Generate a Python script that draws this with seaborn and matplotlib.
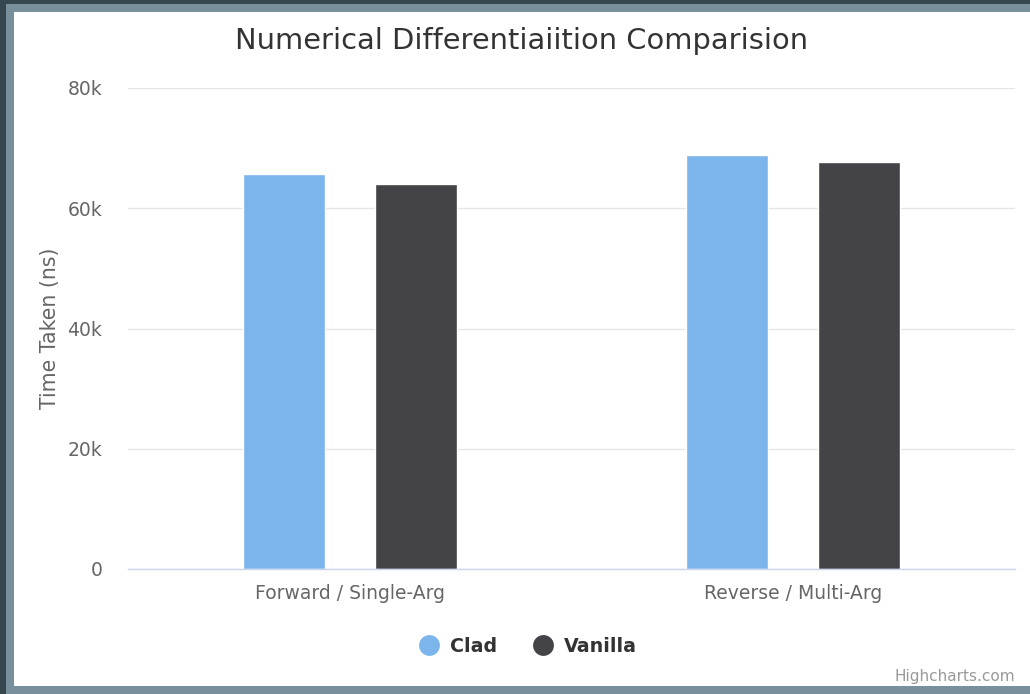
import matplotlib
matplotlib.use("Agg")
import matplotlib.pyplot as plt
from matplotlib.patches import Rectangle
from matplotlib.lines import Line2D
import seaborn as sns
import pandas as pd

categories = ["Forward / Single-Arg", "Reverse / Multi-Arg"]
series_names = ["Clad", "Vanilla"]
clad_values = [65700, 68800]
vanilla_values = [64000, 67700]
y_ticks = [0, 20000, 40000, 60000, 80000]
y_tick_labels = ["0", "20k", "40k", "60k", "80k"]
colors = ["#7cb5ec", "#434348"]

df = pd.DataFrame({
    "category": categories * 2,
    "series": [series_names[0]] * 2 + [series_names[1]] * 2,
    "value": clad_values + vanilla_values,
})

sns.set_style("white")
plt.rcParams["font.family"] = ["DejaVu Sans"]

W, H = 1030, 694
fig = plt.figure(figsize=(W / 100, H / 100), dpi=100)
fig.patch.set_facecolor("white")

# window frame
fig.patches.append(Rectangle((0, 0), 1, 1, transform=fig.transFigure,
                             facecolor="#37474f", edgecolor="none", zorder=-3))
fig.patches.append(Rectangle((6 / W, 0), 1, 1 - 4 / H, transform=fig.transFigure,
                             facecolor="#78909c", edgecolor="none", zorder=-2))
fig.patches.append(Rectangle((14 / W, 8 / H), 1, 1 - 20 / H, transform=fig.transFigure,
                             facecolor="white", edgecolor="none", zorder=-1))

ax = fig.add_axes([128 / W, 1 - 569 / H, (1014.5 - 128) / W, (569 - 88) / H])
ax.set_facecolor("none")
sns.barplot(data=df, x="category", y="value", hue="series", palette=colors,
            width=0.596, gap=0.379, ax=ax, legend=False, saturation=1,
            errorbar=None)

ax.set_xlim(-0.5, 1.5)
ax.set_ylim(0, 80000)
ax.set_yticks(y_ticks)
ax.set_yticklabels(y_tick_labels)
ax.grid(axis="y", color="#e6e6e6", linewidth=1)
ax.set_axisbelow(True)
for s in ["top", "right", "left"]:
    ax.spines[s].set_visible(False)
ax.spines["bottom"].set_color("#ccd6eb")
ax.spines["bottom"].set_linewidth(1)
ax.tick_params(axis="y", length=0, pad=18.5, labelsize=13.5, labelcolor="#666666")
ax.tick_params(axis="x", length=0, pad=11, labelsize=13.5, labelcolor="#666666")
ax.set_xlabel("")
ax.set_ylabel("Time Taken (ns)", fontsize=14.8, color="#666666")
ax.yaxis.set_label_coords((60 - 128) / 886.5, 0.5)
for lab in ax.get_yticklabels():
    lab.set_horizontalalignment("right")

fig.text(522 / W, 1 - 41 / H, "Numerical Differentiaiition Comparision",
         ha="center", va="center", fontsize=20.8, color="#333333")

handles = [Line2D([0], [0], marker="o", linestyle="none", markersize=15,
                  markerfacecolor=c, markeredgecolor="none") for c in colors]
leg = fig.legend(handles, series_names, loc="center", bbox_to_anchor=(528.5 / W, 1 - 646 / H),
                 ncol=2, frameon=False, handlelength=1.0, handletextpad=0.6,
                 columnspacing=1.9, borderpad=0, borderaxespad=0,
                 prop={"size": 13.7, "weight": "bold"})
for t in leg.get_texts():
    t.set_color("#333333")

fig.text(1015 / W, 1 - 677 / H, "Highcharts.com", ha="right", va="center",
         fontsize=11, color="#999999")

fig.savefig("out.png", dpi=100)
